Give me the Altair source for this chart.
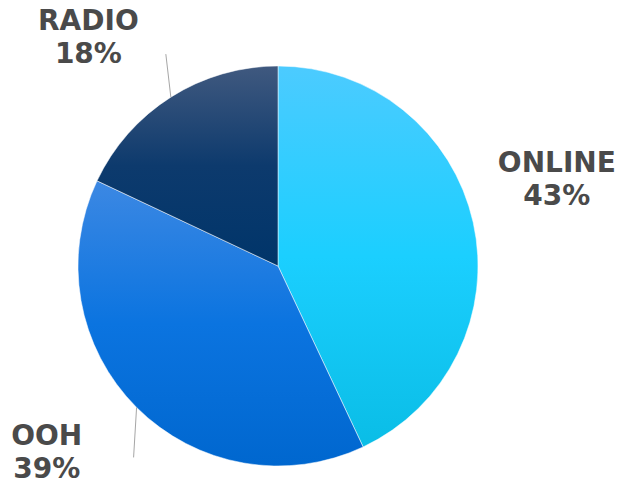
import altair as alt
import pandas as pd

# ---- data ----
categories = ["ONLINE", "OOH", "RADIO"]
shares = [43, 39, 18]

# ---- layout / style ----
CX, CY, R = 278, 266, 200
LABEL_R = 296
label_nudge = {"ONLINE": (-10, -37), "OOH": (-22, -38), "RADIO": (-31, 6)}
leader_vec = {"ONLINE": (0, 0), "OOH": (-3, 50), "RADIO": (-5, -43)}
grad_stops = {
    "ONLINE": ["#4ccbff", "#1bcfff", "#0abde6"],
    "OOH": ["#3c88e3", "#0b74e0", "#0067cf"],
    "RADIO": ["#40597f", "#0d3a6d", "#00356a"],
}
TEXT_COLOR = "#4a4a4a"
FONT = "DejaVu Sans"

df = pd.DataFrame({
    "cat": categories,
    "share": shares,
    "order": list(range(len(categories))),
})
df["label"] = [f"{c}\n{s}%" for c, s in zip(categories, shares)]
df["ndx"] = [label_nudge[c][0] for c in categories]
df["ndy"] = [label_nudge[c][1] for c in categories]
df["ldx"] = [leader_vec[c][0] for c in categories]
df["ldy"] = [leader_vec[c][1] for c in categories]

base = (
    alt.Chart(df)
    .transform_window(cum="sum(share)", sort=[alt.SortField("order")], frame=[None, 0])
    .transform_joinaggregate(total="sum(share)")
    .transform_calculate(
        start="2*PI*(datum.cum - datum.share)/datum.total",
        end="2*PI*datum.cum/datum.total",
    )
    .transform_calculate(mid="(datum.start + datum.end)/2")
    .transform_calculate(
        lx=f"{CX} + {LABEL_R}*sin(datum.mid) + datum.ndx",
        ly=f"{CY} - {LABEL_R}*cos(datum.mid) + datum.ndy",
        ex=f"{CX} + {R}*sin(datum.mid)",
        ey=f"{CY} - {R}*cos(datum.mid)",
    )
    .transform_calculate(
        ex2="datum.ex + datum.ldx",
        ey2="datum.ey + datum.ldy",
    )
)

layers = []
for c in categories:
    s = grad_stops[c]
    grad = alt.Gradient(
        gradient="linear", x1=0, y1=0, x2=0, y2=1,
        stops=[
            alt.GradientStop(offset=0, color=s[0]),
            alt.GradientStop(offset=0.5, color=s[1]),
            alt.GradientStop(offset=1, color=s[2]),
        ],
    )
    layers.append(
        base.transform_filter(alt.datum.cat == c)
        .mark_arc(radius=R, fill=grad, stroke="#ffffff", strokeWidth=0.5)
        .encode(
            theta=alt.Theta("start:Q", scale=None),
            theta2="end:Q",
            x=alt.value(CX),
            y=alt.value(CY),
        )
    )

leaders = (
    base.transform_filter("datum.ldx != 0 || datum.ldy != 0")
    .mark_rule(color="#a6a6a6", strokeWidth=1)
    .encode(
        x=alt.X("ex:Q", scale=None),
        y=alt.Y("ey:Q", scale=None),
        x2="ex2:Q",
        y2="ey2:Q",
    )
)

labels = (
    base.mark_text(
        font=FONT, fontSize=28, fontWeight="bold", color=TEXT_COLOR,
        lineBreak="\n", lineHeight=33, align="center", baseline="middle",
    )
    .encode(
        x=alt.X("lx:Q", scale=None),
        y=alt.Y("ly:Q", scale=None),
        text="label:N",
    )
)

chart = (
    alt.layer(*layers, leaders, labels)
    .properties(width=621, height=484, padding=0, autosize=alt.AutoSizeParams(type="none"))
    .configure_view(stroke=None)
)

chart.save("out.html", embed_options={"renderer": "svg", "actions": False})
